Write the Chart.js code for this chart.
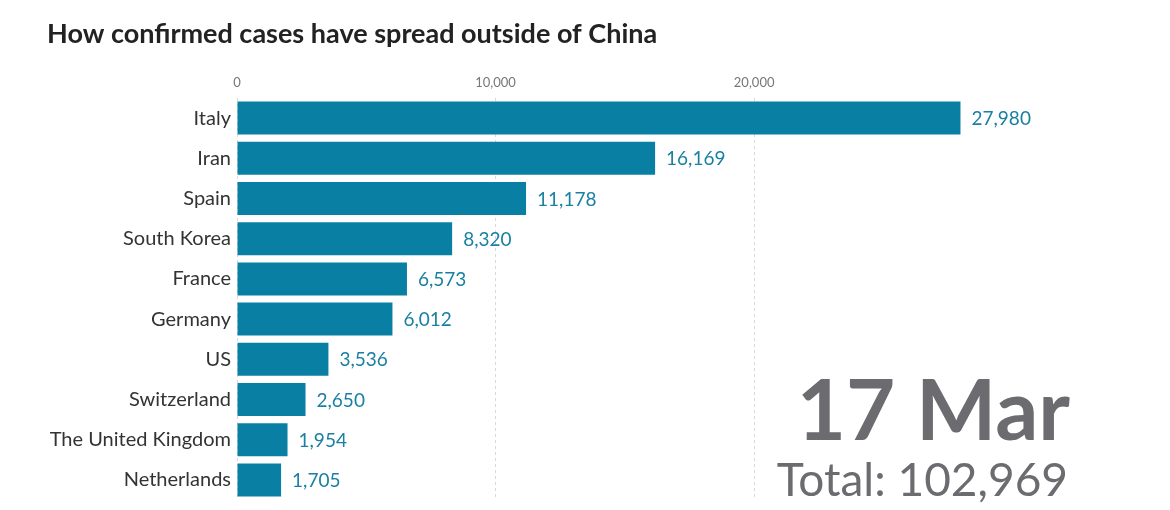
<!DOCTYPE html>
<html>
<head>
<meta charset="utf-8">
<script src="https://cdn.jsdelivr.net/npm/chart.js@4"></script>
<style>
  html, body { margin: 0; padding: 0; background: #fff; }
  #wrap { width: 1170px; height: 510px; }
</style>
</head>
<body>
<div id="wrap"><canvas id="graphCases"></canvas></div>
<script>
// ==== Data ====
var countries = ['Italy', 'Iran', 'Spain', 'South Korea', 'France', 'Germany', 'US', 'Switzerland', 'The United Kingdom', 'Netherlands']
var cases = [27980, 16169, 11178, 8320, 6573, 6012, 3536, 2650, 1954, 1705]
var xTicks = [0, 10000, 20000]
var dateLabel = '17 Mar'
var totalLabel = 'Total: 102,969'

var barColor = '#0a7fa4'
var valueColor = '#1a80a3'
var fontName = 'Lato, "Noto Sans", sans-serif'

// === value labels + date / total overlay ===
var overlay = {
    id: 'overlay',
    afterDatasetsDraw: function(chart) {
        var ctx = chart.ctx
        var meta = chart.getDatasetMeta(0)
        ctx.save()
        ctx.fillStyle = valueColor
        ctx.font = '19px ' + fontName
        ctx.textBaseline = 'middle'
        ctx.textAlign = 'left'
        meta.data.forEach(function(bar, i) {
            ctx.fillText(cases[i].toLocaleString('en-US'), bar.x + 11, bar.y + 1)
        })
        ctx.restore()
    },
    afterDraw: function(chart) {
        var ctx = chart.ctx
        ctx.save()
        ctx.fillStyle = '#6c6c70'
        ctx.textAlign = 'right'
        ctx.textBaseline = 'alphabetic'
        ctx.font = 'bold 85px ' + fontName
        ctx.fillText(dateLabel, 1070, 440)
        ctx.font = '46px ' + fontName
        ctx.fillText(totalLabel, 1068, 496)
        ctx.restore()
    }
}

// ==== Config Graph ====
var config = {
    type: 'bar',
    data: {
        labels: countries,
        datasets: [{
            data: cases,
            backgroundColor: barColor,
            borderWidth: 0,
            barPercentage: 1,
            categoryPercentage: 0.82,
        }],
    },
    options: {
        indexAxis: 'y',
        responsive: true,
        maintainAspectRatio: false,
        animation: false,
        layout: {
            padding: { top: 0, bottom: 10, left: 47, right: 209 }
        },
        plugins: {
            legend: false,
            tooltip: { enabled: false },
            title: {
                display: true,
                text: 'How confirmed cases have spread outside of China',
                align: 'start',
                color: '#222',
                font: { family: fontName, size: 27, weight: 'bold', lineHeight: 1.2 },
                padding: { top: 18, bottom: 0 }
            }
        },
        scales: {
            x: {
                position: 'top',
                min: 0,
                max: 28000,
                afterBuildTicks: function(scale) {
                    scale.ticks = xTicks.map(function(v) { return { value: v } })
                },
                afterFit: function(scale) { scale.height = 98 - 18 - 32.4 },
                border: { display: false, dash: [3, 3] },
                grid: { color: '#d9d9d9', drawTicks: false, lineWidth: 1, tickBorderDash: [3, 3] },
                ticks: {
                    color: '#777',
                    padding: 7,
                    font: { family: fontName, size: 13 },
                    callback: function(v) { return v.toLocaleString('en-US') }
                }
            },
            y: {
                afterFit: function(scale) {
                    scale.width = 190
                    scale.paddingTop = 0
                    scale.paddingBottom = 0
                },
                border: { display: false },
                grid: { display: false, drawTicks: false, tickLength: 0 },
                ticks: {
                    color: '#333',
                    padding: 6,
                    font: { family: fontName, size: 20 }
                }
            }
        }
    },
    plugins: [overlay]
}

const casesGraph = document.getElementById('graphCases').getContext('2d')
new Chart(casesGraph, config)
</script>
</body>
</html>
